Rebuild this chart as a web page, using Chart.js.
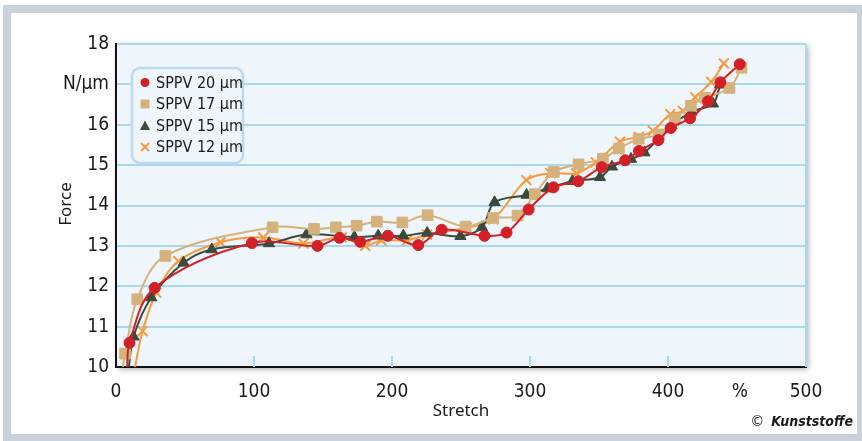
<!DOCTYPE html>
<html>
<head>
<meta charset="utf-8">
<script src="https://cdn.jsdelivr.net/npm/chart.js@4.4.1/dist/chart.umd.min.js"></script>
<style>
  html, body { margin: 0; padding: 0; background: #fff; overflow: hidden; }
  #frame { position: absolute; left: 3px; top: 5px; width: 862px; height: 437px;
           border: 8px solid #c9d2da; box-sizing: border-box; }
  #wrap { position: absolute; left: 0; top: 0; width: 862px; height: 441px; }
</style>
</head>
<body>
<div id="frame"></div>
<div id="wrap"><canvas id="chart" width="862" height="441"></canvas></div>
<script>
// Force over stretch for SPPV films.
// The first value of every series is where its curve leaves the x axis (no marker).

const labels = ['SPPV 20 \u00b5m', 'SPPV 17 \u00b5m', 'SPPV 15 \u00b5m', 'SPPV 12 \u00b5m'];

const stretch20 = [8, 9.8, 28, 98.5, 146, 162, 177, 197, 219, 236, 267, 283, 299, 317, 335, 352, 369, 379, 393, 402, 416, 429, 438, 452];
const force20 = [9.9, 10.6, 11.96, 13.07, 13.0, 13.2, 13.1, 13.25, 13.02, 13.4, 13.25, 13.33, 13.9, 14.45, 14.6, 14.95, 15.12, 15.35, 15.62, 15.92, 16.16, 16.58, 17.05, 17.5];

const stretch17 = [4.5, 6.6, 15.4, 35.8, 113.5, 143.5, 159.3, 174.4, 189, 207.5, 225.8, 253.3, 273.4, 291, 303.5, 317.3, 335.2, 352.8, 364.4, 378.8, 393.4, 405, 416.6, 426.8, 444.5, 453.3];
const force17 = [9.9, 10.33, 11.68, 12.75, 13.46, 13.42, 13.46, 13.5, 13.6, 13.58, 13.76, 13.48, 13.69, 13.75, 14.28, 14.83, 15.02, 15.16, 15.41, 15.65, 15.76, 16.15, 16.47, 16.67, 16.91, 17.41];

const stretch15 = [9, 12.7, 25.6, 49, 69.4, 110.8, 138, 172.7, 190, 208.2, 225.5, 249.6, 265.2, 274.3, 297.5, 312.6, 330.7, 350.7, 359.4, 373.2, 382.9, 402.5, 417, 432.6, 437.8];
const force15 = [9.9, 10.75, 11.72, 12.58, 12.91, 13.06, 13.28, 13.22, 13.25, 13.25, 13.32, 13.24, 13.46, 14.08, 14.26, 14.42, 14.6, 14.7, 14.96, 15.15, 15.31, 15.98, 16.32, 16.52, 16.99];

const stretch12 = [13.5, 19.3, 29.2, 45.2, 75.7, 106.7, 135.8, 163.7, 180.6, 192.2, 210.9, 225.4, 254, 273.4, 297.4, 314.8, 333.5, 347.7, 365.2, 378.8, 389, 401.7, 410.8, 419.7, 431.3, 440.5];
const force12 = [9.95, 10.89, 11.84, 12.62, 13.09, 13.21, 13.06, 13.21, 13.0, 13.14, 13.14, 13.28, 13.45, 13.66, 14.63, 14.8, 14.8, 15.07, 15.58, 15.7, 15.85, 16.26, 16.34, 16.68, 17.06, 17.52];

const xTicks = [0, 100, 200, 300, 400, 452, 500]; // 452 carries the "%" unit
const yTicks = [10, 11, 12, 13, 14, 15, 16, 17, 18];

const NARROW = '"Liberation Sans Narrow", "DejaVu Sans Condensed", "Roboto Condensed", sans-serif';
const GRID = '#a9d8ee';
const PLOT_BG = '#eef6fc';

function pairs(xs, ys) {
  return xs.map((x, i) => ({ x: x, y: ys[i] }));
}

function series(label, xs, ys, color, style, radius) {
  return {
    label: label,
    data: pairs(xs, ys),
    borderColor: color,
    backgroundColor: color,
    pointBackgroundColor: color,
    pointBorderColor: color,
    borderWidth: 2,
    pointStyle: style,
    pointRadius: (c) => (c.dataIndex === 0 ? 0 : radius),
    pointBorderWidth: style === 'crossRot' ? 2 : 1,
    tension: 0.35,
  };
}

// draw one legend marker by hand
function marker(ctx, style, x, y, color) {
  ctx.save();
  ctx.fillStyle = color;
  ctx.strokeStyle = color;
  ctx.lineWidth = 2;
  ctx.beginPath();
  if (style === 'circle') {
    ctx.arc(x, y, 4.5, 0, Math.PI * 2);
    ctx.fill();
  } else if (style === 'rect') {
    ctx.fillRect(x - 4.5, y - 4.5, 9, 9);
  } else if (style === 'triangle') {
    ctx.moveTo(x, y - 5);
    ctx.lineTo(x + 5, y + 4.5);
    ctx.lineTo(x - 5, y + 4.5);
    ctx.closePath();
    ctx.fill();
  } else {
    ctx.moveTo(x - 4, y - 4); ctx.lineTo(x + 4, y + 4);
    ctx.moveTo(x + 4, y - 4); ctx.lineTo(x - 4, y + 4);
    ctx.stroke();
  }
  ctx.restore();
}

const decor = {
  id: 'decor',
  beforeDraw(chart) {
    const { ctx, chartArea: a } = chart;
    ctx.save();
    ctx.shadowColor = 'rgba(0,0,0,0.35)';
    ctx.shadowBlur = 6;
    ctx.shadowOffsetX = 2;
    ctx.shadowOffsetY = 2;
    ctx.fillStyle = PLOT_BG;
    ctx.fillRect(a.left, a.top, a.right - a.left, a.bottom - a.top);
    ctx.restore();
  },
  beforeDatasetsDraw(chart) {
    const { ctx, chartArea: a, scales } = chart;
    ctx.save();
    ctx.strokeStyle = GRID;
    ctx.lineWidth = 2;
    ctx.beginPath();
    ctx.moveTo(a.right, a.top);
    ctx.lineTo(a.right, a.bottom);
    [100, 200, 300, 400].forEach((v) => {
      const px = scales.x.getPixelForValue(v);
      ctx.moveTo(px, a.bottom);
      ctx.lineTo(px, a.bottom - 11);
    });
    ctx.stroke();
    ctx.restore();
  },
  afterDraw(chart) {
    const { ctx } = chart;
    ctx.save();
    // legend box
    ctx.beginPath();
    ctx.roundRect(132, 68, 111, 95, 8);
    ctx.fillStyle = PLOT_BG;
    ctx.fill();
    ctx.strokeStyle = '#bcd9f1';
    ctx.lineWidth = 2.5;
    ctx.stroke();
    ctx.font = '16px ' + NARROW;
    ctx.textBaseline = 'middle';
    const rows = [82.5, 104, 125.5, 147];
    chart.data.datasets.forEach((ds, i) => {
      marker(ctx, ds.pointStyle, 145, rows[i], ds.borderColor);
      ctx.fillStyle = '#1a1a1a';
      ctx.fillText(ds.label, 156, rows[i] + 1);
    });

    // axis titles
    ctx.fillStyle = '#1a1a1a';
    ctx.font = '17px "Noto Sans", sans-serif';
    ctx.textAlign = 'center';
    ctx.fillText('Stretch', 461, 411);
    ctx.save();
    ctx.translate(66, 204);
    ctx.rotate(-Math.PI / 2);
    ctx.fillText('Force', 0, 0);
    ctx.restore();

    // credit, right aligned inside the frame
    ctx.textAlign = 'right';
    ctx.font = 'italic bold 14px ' + NARROW;
    ctx.fillText('Kunststoffe', 853, 422);
    const w = ctx.measureText('Kunststoffe').width;
    ctx.font = '14px "DejaVu Sans", sans-serif';
    ctx.fillText('\u00a9', 853 - w - 7, 422);
    ctx.restore();
  },
};

new Chart(document.getElementById('chart'), {
  type: 'line',
  data: {
    datasets: [
      series(labels[0], stretch20, force20, '#d31f26', 'circle', 5.5),
      series(labels[1], stretch17, force17, '#d5b17c', 'rect', 7.5),
      series(labels[2], stretch15, force15, '#3a4a3d', 'triangle', 6.5),
      series(labels[3], stretch12, force12, '#f8993e', 'crossRot', 7),
    ],
  },
  options: {
    responsive: false,
    animation: false,
    layout: { padding: { left: 0, top: 44, right: 56, bottom: 0 } },
    plugins: { legend: { display: false }, tooltip: { enabled: false } },
    scales: {
      x: {
        type: 'linear',
        min: 0,
        max: 500,
        afterFit: (s) => { s.height = 74; },
        afterBuildTicks: (s) => { s.ticks = xTicks.map((v) => ({ value: v })); },
        grid: { display: false },
        border: { color: '#111', width: 2 },
        ticks: {
          autoSkip: false,
          maxRotation: 0,
          padding: 6,
          color: '#1a1a1a',
          font: { family: NARROW, size: 19 },
          callback: (v) => (v === 452 ? '%' : v),
        },
      },
      y: {
        min: 10,
        max: 18,
        afterFit: (s) => { s.width = 116; },
        afterBuildTicks: (s) => { s.ticks = yTicks.map((v) => ({ value: v })); },
        grid: { color: GRID, lineWidth: 2, drawTicks: false },
        border: { color: '#111', width: 2 },
        ticks: {
          padding: 7,
          color: '#1a1a1a',
          font: { family: NARROW, size: 19 },
          callback: (v) => (v === 17 ? 'N/\u00b5m' : v),
        },
      },
    },
  },
  plugins: [decor],
});
</script>
</body>
</html>
